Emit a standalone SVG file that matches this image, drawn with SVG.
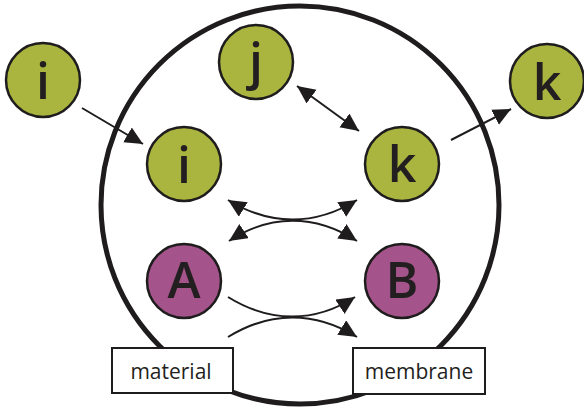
<svg xmlns="http://www.w3.org/2000/svg" width="584" height="409" viewBox="0 0 584 409">
<defs>
<style>
.g{fill:#a9b53f;stroke:#1f1c1d;stroke-width:2.5}
.p{fill:#a4548a;stroke:#1f1c1d;stroke-width:2.5}
.lt{font-family:"Open Sans","Noto Sans","DejaVu Sans",sans-serif;font-size:50px;font-weight:600;fill:#231f20;text-anchor:middle}
.bt{font-family:"Open Sans","Noto Sans","DejaVu Sans",sans-serif;font-size:21px;font-weight:500;fill:#231f20;text-anchor:middle}
.box{fill:#fff;stroke:#1f1c1d;stroke-width:2}
.c{fill:none;stroke:#1f1c1d;stroke-width:2}
</style>
<marker id="ah" markerUnits="userSpaceOnUse" markerWidth="20" markerHeight="20" refX="18" refY="8.5" orient="auto-start-reverse" viewBox="0 0 20 20">
<path d="M0,0 L18,8.5 L0,17 z" fill="#1f1c1d"/>
</marker>
</defs>
<rect width="584" height="409" fill="#fff"/>
<circle id="cell" cx="300" cy="205" r="199" fill="none" stroke="#1f1c1d" stroke-width="5"/>
<g id="connectors">
<line class="c" x1="82" y1="108" x2="143" y2="144" marker-end="url(#ah)"/>
<line class="c" x1="297" y1="86" x2="359" y2="131" marker-start="url(#ah)" marker-end="url(#ah)"/>
<line class="c" x1="451" y1="140" x2="511" y2="109" marker-end="url(#ah)"/>
<path class="c" d="M228,200 C270,226 315,226 357,200" marker-start="url(#ah)" marker-end="url(#ah)"/>
<path class="c" d="M229,241 C270,214 315,214 357,241" marker-start="url(#ah)" marker-end="url(#ah)"/>
<path class="c" d="M228,297 C270,323 315,323 355,297" marker-end="url(#ah)"/>
<path class="c" d="M228,337 C270,311 315,311 357,337" marker-end="url(#ah)"/>
</g>
<g id="i-out"><circle class="g" cx="43" cy="80" r="37"/><text class="lt" x="43" y="99">i</text></g>
<g id="i-in"><circle class="g" cx="184" cy="164" r="37"/><text class="lt" x="184" y="183">i</text></g>
<g id="j"><circle class="g" cx="256" cy="62" r="37"/><text class="lt" x="256" y="79">j</text></g>
<g id="k-in"><circle class="g" cx="402" cy="164" r="37"/><text class="lt" x="402" y="182">k</text></g>
<g id="k-out"><circle class="g" cx="547" cy="81" r="37"/><text class="lt" x="547" y="100">k</text></g>
<g id="A"><circle class="p" cx="184" cy="281" r="37"/><text class="lt" x="184" y="298">A</text></g>
<g id="B"><circle class="p" cx="402" cy="281" r="37"/><text class="lt" x="402" y="298">B</text></g>
<g id="material"><rect class="box" x="112" y="348" width="121" height="45"/><text class="bt" x="171" y="379">material</text></g>
<g id="membrane"><rect class="box" x="353" y="348" width="132" height="46"/><text class="bt" x="419" y="379">membrane</text></g>
</svg>
